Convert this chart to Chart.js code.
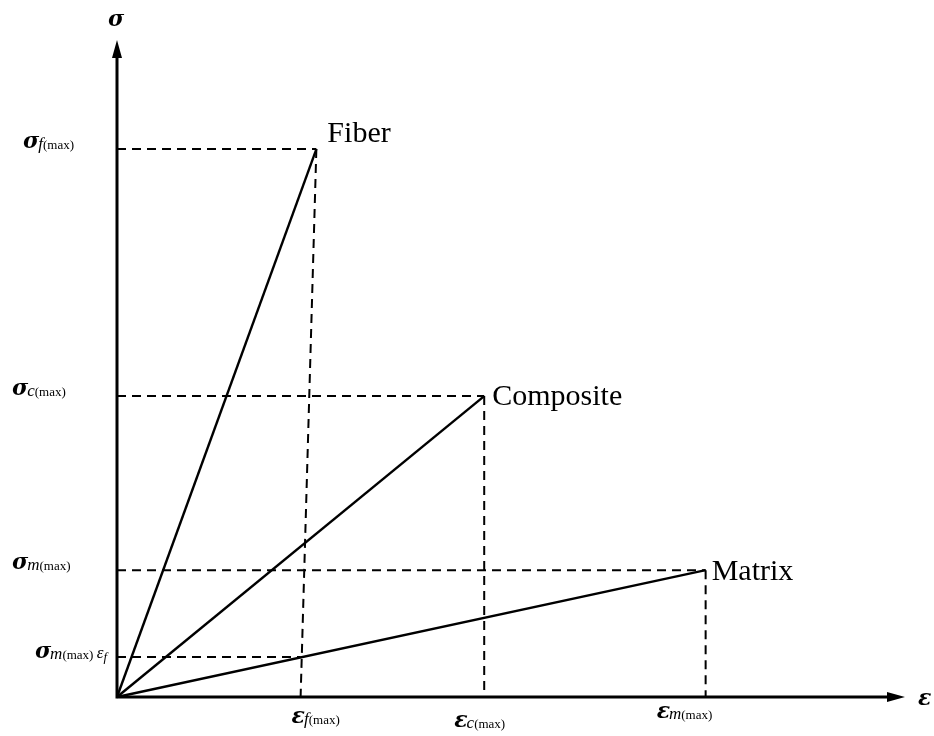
<!DOCTYPE html>
<html>
<head>
<meta charset="utf-8">
<script src="https://cdn.jsdelivr.net/npm/chart.js@4.4.1/dist/chart.umd.min.js"></script>
<style>
  html, body { margin: 0; padding: 0; background: #fff; }
  #wrap { width: 934px; height: 736px; }
</style>
</head>
<body>
<div id="wrap"><canvas id="stressStrainChart" width="934" height="736"></canvas></div>
<script>
// materials and their failure points (arbitrary units)
const materials = ['Fiber', 'Composite', 'Matrix'];
const maxStrain = [2.53, 4.66, 7.47];   // where each line ends
const maxStress = [8.34, 4.58, 1.93];
const strainDrop = [2.33, 4.66, 7.47];   // where the dashed drop lines hit the strain axis
const matrixStressAtFiberStrain = 0.61;

const stressLabels = ['f', 'c', 'm'];
const strainLabels = ['f', 'c', 'm'];

const SERIF = '"Liberation Serif", "DejaVu Serif", serif';
const GREEK = '"DejaVu Serif", serif';

function line(points, dashed) {
    return {
        data: points,
        borderColor: '#000',
        borderWidth: dashed ? 2 : 2.4,
        borderDash: dashed ? [9, 6] : [],
        pointRadius: 0,
        showLine: true,
        fill: false,
        clip: false,
        tension: 0
    };
}

const datasets = [];
// dashed guides first, solid lines over them
materials.forEach(function(m, i) {
    datasets.push(line([{x: 0, y: maxStress[i]}, {x: maxStrain[i], y: maxStress[i]}], true));
    datasets.push(line([{x: maxStrain[i], y: maxStress[i]}, {x: strainDrop[i], y: 0}], true));
});
datasets.push(line([{x: 0, y: matrixStressAtFiberStrain}, {x: strainDrop[0], y: matrixStressAtFiberStrain}], true));
materials.forEach(function(m, i) {
    datasets.push(line([{x: 0, y: 0}, {x: maxStrain[i], y: maxStress[i]}], false));
});

// draw a run of text pieces with different fonts on one baseline
function drawRuns(ctx, runs, x, y, align) {
    let total = 0;
    runs.forEach(function(r) { ctx.font = r.font; total += ctx.measureText(r.t).width + (r.gap || 0); });
    let cx = align === 'right' ? x - total : (align === 'center' ? x - total / 2 : x);
    runs.forEach(function(r) {
        ctx.font = r.font;
        ctx.fillText(r.t, cx, y + (r.dy || 0));
        cx += ctx.measureText(r.t).width + (r.gap || 0);
    });
}

const greekBig = 'italic bold 22px ' + GREEK;
const subItal = 'italic 17px ' + SERIF;
const subMax = '13px ' + SERIF;

function sym(letter, sub) {
    return [
        {t: letter, font: greekBig, gap: -1},
        {t: sub, font: subItal, dy: 1},
        {t: '(max)', font: subMax, dy: 1}
    ];
}

const annotations = {
    id: 'annotations',
    afterDatasetsDraw(chart) {
        const ctx = chart.ctx;
        const xs = chart.scales.x, ys = chart.scales.y;
        const ox = xs.getPixelForValue(0), oy = ys.getPixelForValue(0);
        const xEnd = xs.getPixelForValue(xs.max), yEnd = ys.getPixelForValue(ys.max);

        ctx.save();
        ctx.fillStyle = '#000';
        ctx.strokeStyle = '#000';
        ctx.lineWidth = 3;
        ctx.lineCap = 'butt';
        // axes
        ctx.beginPath();
        ctx.moveTo(ox, oy + 1.5); ctx.lineTo(ox, yEnd + 12);
        ctx.moveTo(ox - 1.5, oy); ctx.lineTo(xEnd - 12, oy);
        ctx.stroke();
        // arrow heads
        ctx.beginPath();
        ctx.moveTo(ox, yEnd); ctx.lineTo(ox - 5, yEnd + 18); ctx.lineTo(ox + 5, yEnd + 18); ctx.closePath();
        ctx.moveTo(xEnd, oy); ctx.lineTo(xEnd - 18, oy - 5); ctx.lineTo(xEnd - 18, oy + 5); ctx.closePath();
        ctx.fill();

        ctx.textBaseline = 'alphabetic';
        // axis titles
        ctx.font = greekBig;
        ctx.textAlign = 'left';
        ctx.fillText('σ', ox - 9, yEnd - 14);
        ctx.fillText('ε', xEnd + 13, oy + 8);

        // stress labels on the left
        const leftX = [23, 12, 12];
        materials.forEach(function(m, i) {
            const py = ys.getPixelForValue(maxStress[i]);
            drawRuns(ctx, sym('σ', stressLabels[i]), leftX[i], py - 1, 'left');
        });
        const pm = ys.getPixelForValue(matrixStressAtFiberStrain);
        drawRuns(ctx, sym('σ', 'm').concat([{t: ' ', font: subMax}, {t: 'ε', font: 'italic 17px ' + SERIF}, {t: 'f', font: 'italic 13px ' + SERIF, dy: 3}]), 107, pm + 1, 'right');

        // strain labels under the axis
        const dx = [-9, -30, -49];
        const dy = [26, 30, 21];
        materials.forEach(function(m, i) {
            const px = xs.getPixelForValue(strainDrop[i]);
            drawRuns(ctx, sym('ε', strainLabels[i]), px + dx[i], oy + dy[i], 'left');
        });

        // curve names
        ctx.font = '30px ' + SERIF;
        const nameDx = [11, 8, 6];
        const nameDy = [-7, 9, 10];
        materials.forEach(function(m, i) {
            const px = xs.getPixelForValue(maxStrain[i]);
            const py = ys.getPixelForValue(maxStress[i]);
            ctx.fillText(m, px + nameDx[i], py + nameDy[i]);
        });
        ctx.restore();
    }
};

new Chart(document.getElementById('stressStrainChart').getContext('2d'), {
    type: 'scatter',
    data: { datasets: datasets },
    options: {
        responsive: false,
        animation: false,
        layout: { padding: { left: 117, right: 29, top: 40, bottom: 39 } },
        scales: {
            x: { type: 'linear', min: 0, max: 10, display: false },
            y: { type: 'linear', min: 0, max: 10, display: false }
        },
        plugins: {
            legend: { display: false },
            tooltip: { enabled: false }
        }
    },
    plugins: [annotations]
});
</script>
</body>
</html>
